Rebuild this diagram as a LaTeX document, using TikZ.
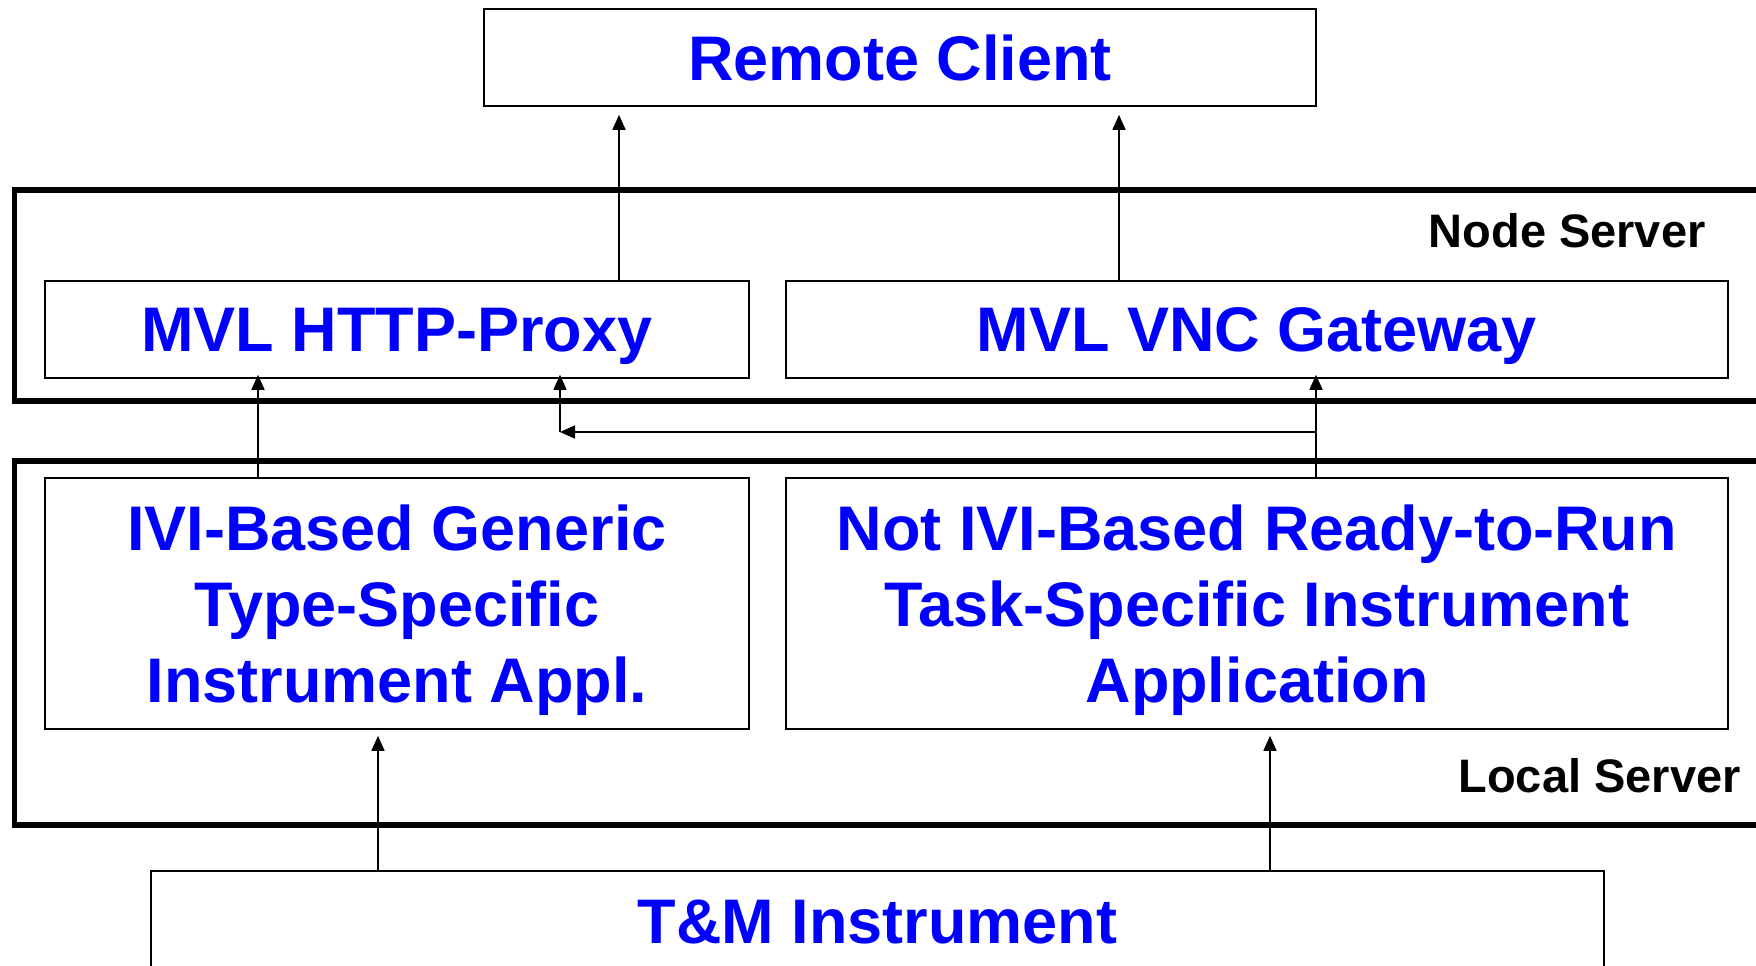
\documentclass[tikz,border=0pt]{standalone}
\usepackage{fontspec}
\setmainfont{Liberation Sans}
\usetikzlibrary{arrows.meta}
\definecolor{textblue}{RGB}{0,0,255}
\begin{document}
\begin{tikzpicture}[x=0.5pt,y=-0.5pt,
  box/.style={draw=black, line width=0.8pt, rectangle, inner sep=0pt,
    align=center, text depth=0pt, text=textblue,
    font=\fontsize{31.5}{38}\selectfont\bfseries},
  frame/.style={draw=black, line width=2.6pt, line join=miter},
  tierlabel/.style={inner sep=0pt, anchor=east, text depth=0pt,
    font=\fontsize{23.5}{28}\selectfont\bfseries},
  arr/.style={draw=black, line width=0.75pt,
    -{Triangle[length=7.5pt,width=6.5pt]}}]
\useasboundingbox (0,0) rectangle (1756,965);

% server tiers (open to the right)
\draw[frame] (1770,190) -- (14.5,190) -- (14.5,401) -- (1770,401);
\draw[frame] (1770,461) -- (14.5,461) -- (14.5,825) -- (1770,825);
\node[tierlabel] (nodesrv) at (1706,230) {Node Server};
\node[tierlabel] (localsrv) at (1741,775) {Local Server};

% component boxes
\node[box, minimum width=416pt, minimum height=48.5pt] (remote) at (900,57.5) {Remote Client};
\node[box, minimum width=352pt, minimum height=48.5pt] (proxy) at (397,329.5) {MVL HTTP-Proxy};
\node[box, minimum width=471pt, minimum height=48.5pt] (vnc) at (1257,329.5) {MVL VNC Gateway};
\node[box, minimum width=352pt, minimum height=125.5pt] (ivi) at (397,603.5)
  {IVI-Based Generic\\Type-Specific\\Instrument Appl.};
\node[box, minimum width=471pt, minimum height=125.5pt] (notivi) at (1257,603.5)
  {Not IVI-Based Ready-to-Run\\Task-Specific Instrument\\Application};
\node[box, minimum width=726.5pt, minimum height=51pt] (tm) at (877.5,922) {T\&M Instrument};

% connector positions
\coordinate (xa) at (619,0);
\coordinate (xb) at (1119,0);
\coordinate (xc) at (258,0);
\coordinate (xd) at (378,0);
\coordinate (xe) at (1270,0);
\coordinate (br) at (1316,432);
\coordinate (cr) at (560,432);

% connectors
\draw[arr, shorten >=4pt] (proxy.north -| xa) -- (remote.south -| xa);
\draw[arr, shorten >=4pt] (vnc.north -| xb) -- (remote.south -| xb);
\draw[arr, shorten >=-2pt] (ivi.north -| xc) -- (proxy.south -| xc);
\draw[arr, shorten >=-2pt] (notivi.north -| br) -- (vnc.south -| br);
\draw[arr] (br) -- (cr);
\draw[arr, shorten >=-2pt] (cr) -- (proxy.south -| cr);
\draw[arr, shorten >=3pt] (tm.north -| xd) -- (ivi.south -| xd);
\draw[arr, shorten >=3pt] (tm.north -| xe) -- (notivi.south -| xe);
\end{tikzpicture}
\end{document}
